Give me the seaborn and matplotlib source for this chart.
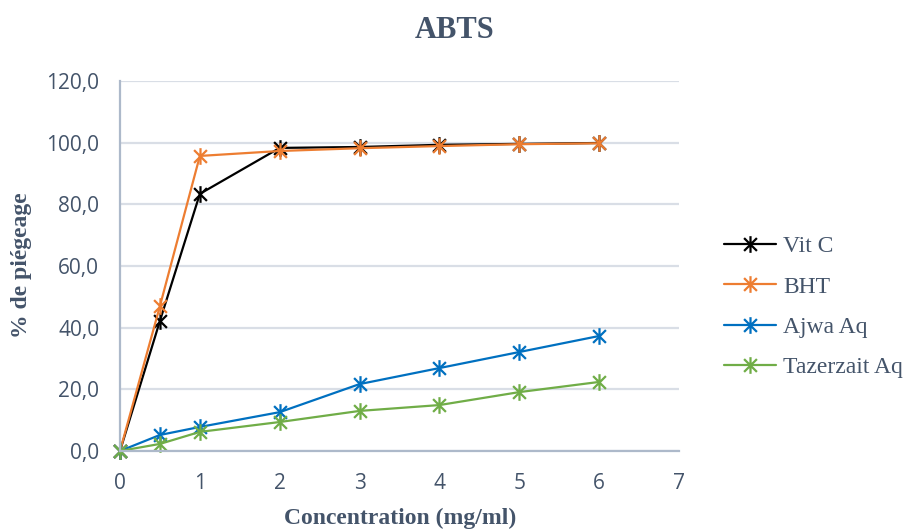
import matplotlib
matplotlib.use("Agg")
import matplotlib.pyplot as plt
from matplotlib.path import Path
import seaborn as sns
import pandas as pd

# Concentrations (mg/ml) and scavenging percentages per sample
concentration = [0, 0.5, 1, 2, 3, 4, 5, 6]
vit_c = [0.0, 42.2, 83.4, 98.3, 98.6, 99.3, 99.6, 99.9]
bht = [0.0, 47.0, 95.7, 97.3, 98.2, 98.9, 99.5, 99.8]
ajwa_aq = [0.0, 5.2, 7.8, 12.6, 21.7, 26.9, 32.1, 37.3]
tazerzait_aq = [0.0, 2.3, 6.2, 9.4, 13.0, 14.9, 19.1, 22.4]

series_names = ["Vit C", "BHT", "Ajwa Aq", "Tazerzait Aq"]
series_values = [vit_c, bht, ajwa_aq, tazerzait_aq]
series_colors = ["#000000", "#ED7D31", "#0070C0", "#70AD47"]

x_ticks = [0, 1, 2, 3, 4, 5, 6, 7]
y_ticks = [0, 20, 40, 60, 80, 100, 120]

df = pd.DataFrame({
    "Concentration": concentration * len(series_names),
    "Valeur": [v for vals in series_values for v in vals],
    "Série": [n for n in series_names for _ in concentration],
})

sns.set_theme(style="white")
text_color = "#44546A"
serif = ["Liberation Serif", "DejaVu Serif"]
sans = ["Open Sans", "DejaVu Sans"]

# Asterisk marker: an X crossed by a vertical bar
star = Path(
    [(-1, -1), (1, 1), (-1, 1), (1, -1), (0, -1.3), (0, 1.3)],
    [Path.MOVETO, Path.LINETO, Path.MOVETO, Path.LINETO, Path.MOVETO, Path.LINETO],
)

fig = plt.figure(figsize=(9.09, 5.29), dpi=100)
ax = fig.add_axes([120 / 909, 1 - 451 / 529, (679 - 120) / 909, (451 - 81) / 529])

for name, color in zip(series_names, series_colors):
    sub = df[df["Série"] == name]
    sns.lineplot(
        data=sub, x="Concentration", y="Valeur", ax=ax, color=color,
        marker=star, markersize=12, markeredgewidth=1.6, markeredgecolor=color,
        linewidth=1.6, label=name, legend=False, clip_on=False,
    )

ax.set_xlim(0, 7)
ax.set_ylim(0, 120)
ax.set_xticks(x_ticks)
ax.set_yticks(y_ticks)
ax.set_xticklabels([str(t) for t in x_ticks])
ax.set_yticklabels([f"{t:.1f}".replace(".", ",") for t in y_ticks])
for lab in ax.get_xticklabels() + ax.get_yticklabels():
    lab.set_family(sans)
    lab.set_fontsize(15)
    lab.set_color(text_color)
ax.tick_params(axis="both", length=0)
ax.tick_params(axis="x", pad=16)
ax.tick_params(axis="y", pad=15)

ax.yaxis.grid(True, color="#D9DEE6", linewidth=1.6)
ax.xaxis.grid(False)
ax.set_axisbelow(True)
for side in ["top", "right"]:
    ax.spines[side].set_visible(False)
for side in ["left", "bottom"]:
    ax.spines[side].set_color("#ADB9CA")
    ax.spines[side].set_linewidth(1.6)
ax.set_xlabel("")
ax.set_ylabel("")

fig.text(455 / 909, 1 - 31 / 529, "ABTS", ha="center", va="center",
         family=serif, fontsize=22, fontweight="bold", color=text_color)
fig.text(400 / 909, 1 - 518 / 529, "Concentration (mg/ml)", ha="center", va="center",
         family=serif, fontsize=17, fontweight="bold", color=text_color)
fig.text(22 / 909, 1 - 265 / 529, "% de piégeage", ha="center", va="center",
         rotation=90, family=serif, fontsize=17, fontweight="bold", color=text_color)

handles, labels = ax.get_legend_handles_labels()
leg = fig.legend(
    handles, labels, loc="center left", bbox_to_anchor=(724 / 909, 1 - 307 / 529),
    frameon=False, prop={"family": serif, "size": 17}, handlelength=2.2,
    handletextpad=0.3, labelspacing=0.8, borderpad=0, borderaxespad=0,
)
for t in leg.get_texts():
    t.set_color(text_color)

fig.savefig("out.png", dpi=100)
